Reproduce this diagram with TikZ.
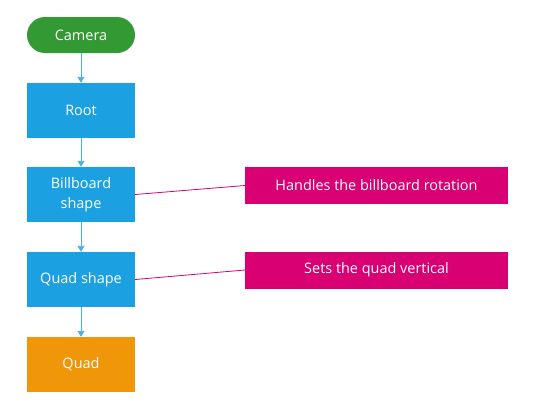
\documentclass[tikz,border=0pt]{standalone}
\usepackage{fontspec}
\setmainfont{Open Sans}
\usetikzlibrary{arrows.meta}
\definecolor{cgreen}{HTML}{339933}
\definecolor{cblue}{HTML}{1BA1E2}
\definecolor{corange}{HTML}{F09609}
\definecolor{cpink}{HTML}{D80073}
\definecolor{carrow}{HTML}{4FADE3}
\begin{document}
\begin{tikzpicture}[x=1bp,y=-1bp,
  box/.style={draw=none,fill=cblue,text=white,minimum width=108bp,minimum height=55bp,inner sep=0pt,align=center,font=\fontsize{14.5}{20}\selectfont},
  note/.style={draw=none,fill=cpink,text=white,minimum width=263bp,minimum height=37bp,inner sep=0pt,font=\fontsize{14.5}{20}\selectfont},
  flow/.style={draw=carrow,line width=0.9bp,-{Triangle[length=6bp,width=7bp]}},
  link/.style={draw=cpink,line width=0.8bp}]
\useasboundingbox (0,0) rectangle (537,414);
\node[box,fill=cgreen,minimum height=36bp,rounded corners=18bp] (cam) at (81,35) {Camera};
\node[box] (root) at (81,110.5) {Root};
\node[box] (bb) at (81,194.5) {Billboard\\shape};
\node[box] (qs) at (81,279.5) {Quad shape};
\node[box,fill=corange] (q) at (81,364.5) {Quad};
\node[note] (n1) at (376.5,185.5) {Handles the billboard rotation};
\node[note] (n2) at (376.5,270) {Sets the quad vertical};
\draw[flow] (cam) -- (root);
\draw[flow] (root) -- (bb);
\draw[flow] (bb) -- (qs);
\draw[flow] (qs) -- (q);
\draw[link] (bb.east) -- (n1.west);
\draw[link] (qs.east) -- (n2.west);
\end{tikzpicture}
\end{document}
